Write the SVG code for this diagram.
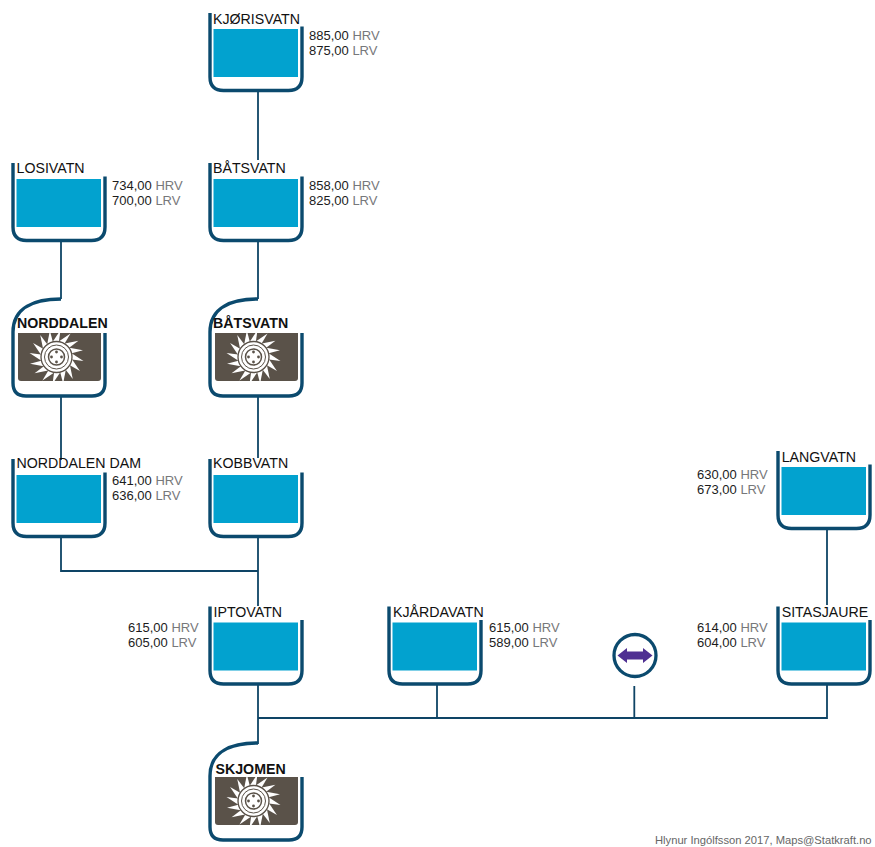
<svg xmlns="http://www.w3.org/2000/svg" width="875" height="847" viewBox="0 0 875 847">
<style>
text{font-family:"Liberation Sans",Arial,sans-serif;font-size:13px;fill:#1c1c1c}
.n{font-size:14.2px;fill:#111}
.b{font-weight:bold;font-size:14.2px;fill:#111}
.g{fill:#77787a}
.f{font-size:11.2px;fill:#666}
.wall{fill:none;stroke:#0b4a6e;stroke-width:3.4}
.water{fill:#02a2cf}
.house{fill:#5a5249}
.conn{fill:none;stroke:#0e4465;stroke-width:1.8}
</style>
<defs>
<g id="tank">
<path class="wall" d="M210 13V77Q210 90.500 223.500 90.500H288.500Q302 90.500 302 77V26.500"/>
<rect class="water" x="213.500" y="29" width="84.500" height="48"/>
</g>
<polygon id="tooth" fill="#fff" points="-3.600,-15.500 2.400,-15.500 4,-27"/>
<g id="wheel">
<use href="#tooth"/><use href="#tooth" transform="rotate(22.5)"/><use href="#tooth" transform="rotate(45)"/><use href="#tooth" transform="rotate(67.5)"/>
<use href="#tooth" transform="rotate(90)"/><use href="#tooth" transform="rotate(112.5)"/><use href="#tooth" transform="rotate(135)"/><use href="#tooth" transform="rotate(157.5)"/>
<use href="#tooth" transform="rotate(180)"/><use href="#tooth" transform="rotate(202.5)"/><use href="#tooth" transform="rotate(225)"/><use href="#tooth" transform="rotate(247.5)"/>
<use href="#tooth" transform="rotate(270)"/><use href="#tooth" transform="rotate(292.5)"/><use href="#tooth" transform="rotate(315)"/><use href="#tooth" transform="rotate(337.5)"/>
<circle r="15.500" fill="#fff" stroke="#5a5249" stroke-width="1.300"/>
<circle r="12" fill="none" stroke="#5a5249" stroke-width="1"/>
<circle r="8" fill="none" stroke="#5a5249" stroke-width="1.500"/>
<circle cy="-5" r="1.400" fill="#5a5249"/><circle cy="5" r="1.400" fill="#5a5249"/><circle cx="-5" r="1.400" fill="#5a5249"/><circle cx="5" r="1.400" fill="#5a5249"/>
</g>
<g id="plant">
<path class="wall" d="M258 299C232 299 210 307 210 332V383Q210 396 223 396H289Q302 396 302 383V333"/>
<path class="house" d="M215 333H298V378Q298 381 295 381H218Q215 381 215 378Z"/>
<use href="#wheel" x="253.500" y="357"/>
</g>
</defs>
<g id="connectors" class="conn">
<path d="M258 91V160"/>
<path d="M258 240V299"/>
<path d="M61 240V299"/>
<path d="M258 396V458"/>
<path d="M61 396V460"/>
<path d="M61 537V571H258"/>
<path d="M258 537V606"/>
<path d="M258 685V744"/>
<path d="M258 718H827V685"/>
<path d="M437 685V718"/>
<path d="M634.300 686V718"/>
<path d="M827 530V605"/>
</g>
<g id="kjorisvatn"><use href="#tank"/><text class="n" x="213" y="24">KJØRISVATN</text><text x="309" y="40">885,00 <tspan class="g">HRV</tspan></text><text x="309" y="55">875,00 <tspan class="g">LRV</tspan></text></g>
<g id="losivatn"><use href="#tank" x="-197" y="150"/><text class="n" x="16.500" y="173">LOSIVATN</text><text x="112" y="190">734,00 <tspan class="g">HRV</tspan></text><text x="112" y="205">700,00 <tspan class="g">LRV</tspan></text></g>
<g id="batsvatn"><use href="#tank" y="150"/><text class="n" x="213" y="173">BÅTSVATN</text><text x="309" y="190">858,00 <tspan class="g">HRV</tspan></text><text x="309" y="205">825,00 <tspan class="g">LRV</tspan></text></g>
<g id="norddalen-plant"><use href="#plant" x="-197"/><text class="b" x="17" y="328">NORDDALEN</text></g>
<g id="batsvatn-plant"><use href="#plant"/><text class="b" x="213" y="328">BÅTSVATN</text></g>
<g id="norddalen-dam"><use href="#tank" x="-197" y="446"/><text class="n" x="16.500" y="468">NORDDALEN DAM</text><text x="112" y="485">641,00 <tspan class="g">HRV</tspan></text><text x="112" y="500">636,00 <tspan class="g">LRV</tspan></text></g>
<g id="kobbvatn"><use href="#tank" y="446"/><text class="n" x="213" y="468">KOBBVATN</text></g>
<g id="langvatn"><use href="#tank" x="568" y="438"/><text class="n" x="781.700" y="462">LANGVATN</text><text x="697" y="479">630,00 <tspan class="g">HRV</tspan></text><text x="697" y="494">673,00 <tspan class="g">LRV</tspan></text></g>
<g id="iptovatn"><use href="#tank" y="593.500"/><text class="n" x="213.500" y="617">IPTOVATN</text><text x="128" y="632">615,00 <tspan class="g">HRV</tspan></text><text x="128" y="647">605,00 <tspan class="g">LRV</tspan></text></g>
<g id="kjardavatn"><use href="#tank" x="179" y="593.500"/><text class="n" x="393" y="617">KJÅRDAVATN</text><text x="489" y="632">615,00 <tspan class="g">HRV</tspan></text><text x="489" y="647">589,00 <tspan class="g">LRV</tspan></text></g>
<g id="sitasjaure"><use href="#tank" x="568" y="593.500"/><text class="n" x="781.700" y="617">SITASJAURE</text><text x="697" y="632">614,00 <tspan class="g">HRV</tspan></text><text x="697" y="647">604,00 <tspan class="g">LRV</tspan></text></g>
<g id="exchange"><circle cx="635" cy="655.500" r="21" fill="#fff" stroke="#0b4a6e" stroke-width="3.300"/><path fill="#4f2f92" d="M617.500 655.500L627 648V651.500H643V648L652.500 655.500L643 663V659.500H627V663Z"/></g>
<g id="skjomen"><use href="#plant" y="444"/><text class="b" x="215.500" y="774">SKJOMEN</text></g>
<text class="f" x="655" y="844">Hlynur Ingólfsson 2017, Maps@Statkraft.no</text>
</svg>
